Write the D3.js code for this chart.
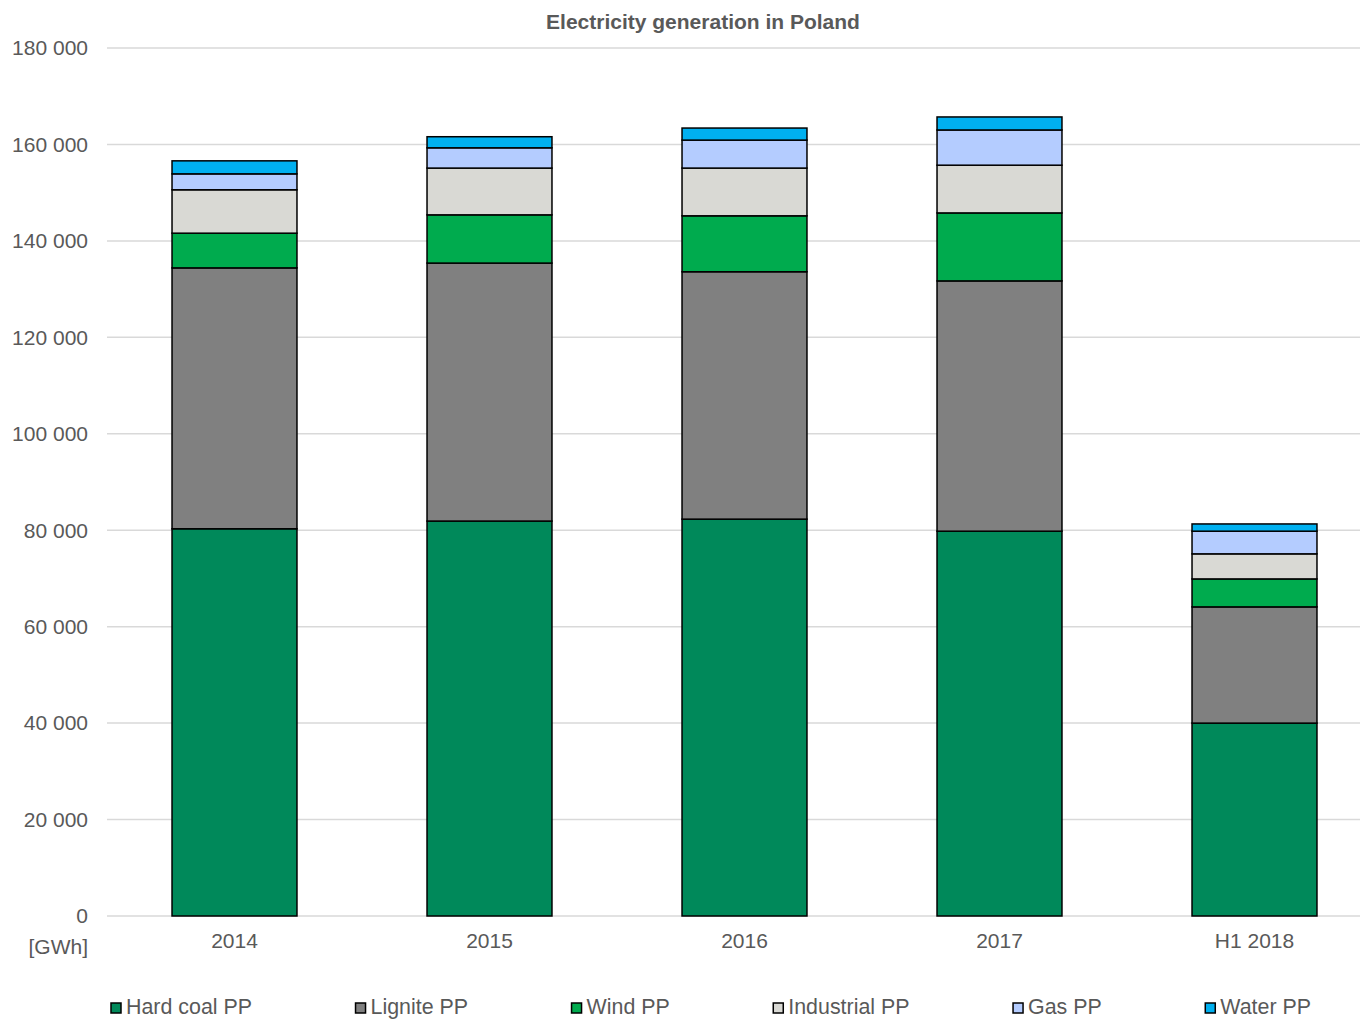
<!DOCTYPE html>
<html>
<head>
<meta charset="utf-8">
<script src="https://cdn.jsdelivr.net/npm/d3@7"></script>
<style>
  body { margin: 0; background: #fff; }
  text { font-family: "Liberation Sans", Arial, sans-serif; fill: #595959; }
</style>
</head>
<body>
<div id="main"></div>
<script>
var years = ["2014", "2015", "2016", "2017", "H1 2018"];
var series = ["Hard coal PP", "Lignite PP", "Wind PP", "Industrial PP", "Gas PP", "Water PP"];
var hardCoal = [80300, 81900, 82300, 79800, 40000];
var lignite = [54100, 53500, 51300, 51900, 24100];
var wind = [7200, 10000, 11600, 14100, 5800];
var industrial = [9000, 9700, 9900, 9900, 5200];
var gas = [3300, 4200, 5800, 7300, 4700];
var water = [2700, 2300, 2500, 2700, 1500];
var yTicks = [0, 20000, 40000, 60000, 80000, 100000, 120000, 140000, 160000, 180000];
var colors = ["#00895a", "#808080", "#00ab4e", "#d9d9d4", "#b4ccff", "#00b0f0"];

var values = [hardCoal, lignite, wind, industrial, gas, water];
var rows = years.map(function(y, i) {
  var r = {year: y};
  series.forEach(function(s, j) { r[s] = values[j][i]; });
  return r;
});//build table for stack

var width = 1360, height = 1019;
var svg = d3.select("#main").append("svg")
  .attr("width", width)
  .attr("height", height);

var y = d3.scaleLinear().domain([0, 180000]).range([916, 48]);
var x = d3.scaleBand().domain(years).range([107, 1382]).paddingInner(0.51).paddingOuter(0.255);
var color = d3.scaleOrdinal().domain(series).range(colors);
var fmt = function(d) { return d3.format(",")(d).replace(/,/g, " "); };

// gridlines
svg.append("g").selectAll("line").data(yTicks).enter().append("line")
  .attr("x1", 107).attr("x2", 1360)
  .attr("y1", function(d) { return y(d); })
  .attr("y2", function(d) { return y(d); })
  .attr("stroke", "#d9d9d9")
  .attr("stroke-width", 1.5);

// y labels
svg.append("g").selectAll("text").data(yTicks).enter().append("text")
  .attr("x", 88)
  .attr("y", function(d) { return y(d); })
  .attr("dy", "0.35em")
  .attr("text-anchor", "end")
  .style("font-size", "21px")
  .text(fmt);

svg.append("text")
  .attr("x", 88).attr("y", 954)
  .attr("text-anchor", "end")
  .style("font-size", "21px")
  .text("[GWh]");

// bars
var stacked = d3.stack().keys(series)(rows);
svg.append("g").selectAll("g").data(stacked).enter().append("g")
  .attr("fill", function(d) { return color(d.key); })
  .selectAll("rect").data(function(d) { return d; }).enter().append("rect")
  .attr("x", function(d) { return x(d.data.year); })
  .attr("width", x.bandwidth())
  .attr("y", function(d) { return y(d[1]); })
  .attr("height", function(d) { return y(d[0]) - y(d[1]); })
  .attr("stroke", "#000")
  .attr("stroke-width", 1.5);

// x labels
svg.append("g").selectAll("text").data(years).enter().append("text")
  .attr("x", function(d) { return x(d) + x.bandwidth() / 2; })
  .attr("y", 948)
  .attr("text-anchor", "middle")
  .style("font-size", "21px")
  .text(function(d) { return d; });

// title
svg.append("text")
  .attr("x", 703).attr("y", 29)
  .attr("text-anchor", "middle")
  .style("font-size", "21px")
  .style("font-weight", "bold")
  .text("Electricity generation in Poland");

// legend
var legend = svg.append("g");
var lx = 111;
series.forEach(function(s) {
  legend.append("rect")
    .attr("x", lx).attr("y", 1003)
    .attr("width", 10).attr("height", 10)
    .attr("fill", color(s))
    .attr("stroke", "#000")
    .attr("stroke-width", 1.5);
  var t = legend.append("text")
    .attr("x", lx + 15).attr("y", 1014)
    .style("font-size", "21.4px")
    .text(s);
  lx += 15 + t.node().getComputedTextLength() + 103.5;
});
</script>
</body>
</html>
